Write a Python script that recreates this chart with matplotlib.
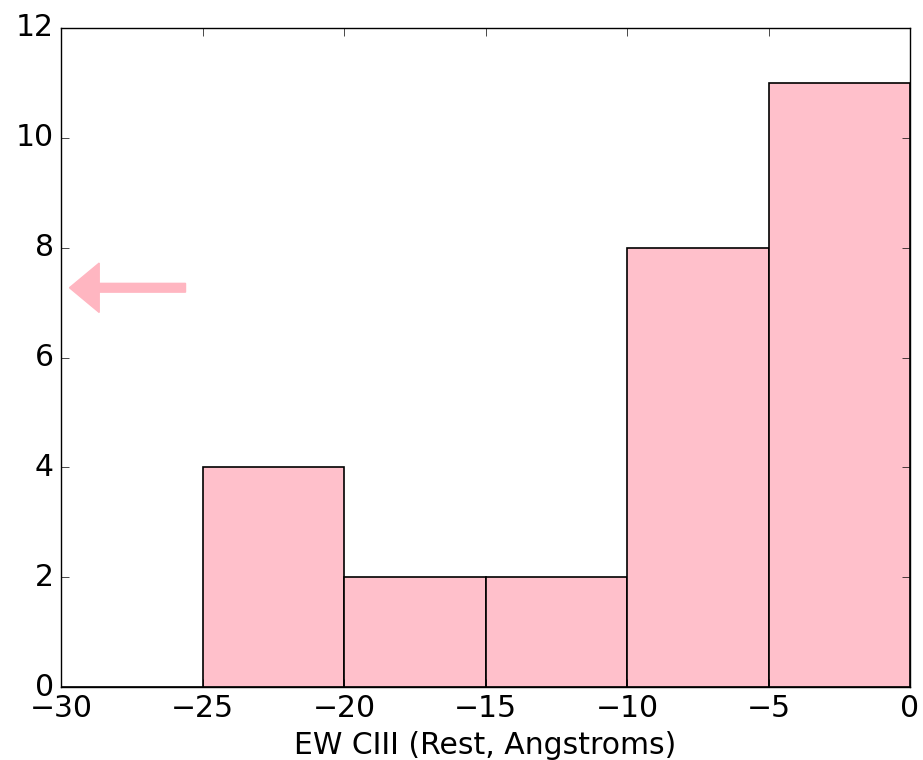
import matplotlib
matplotlib.use('Agg')
import matplotlib.pyplot as plt
import numpy as np

# histogram of CIII equivalent widths
bin_edges = [-30, -25, -20, -15, -10, -5, 0]
counts = [0, 4, 2, 2, 8, 11]

# arrow marking an out-of-range value
arrow_y = 7.27
arrow_start = -25.6
arrow_end = -29.7

plt.style.use('classic')
fig = plt.figure(figsize=(9.23, 7.6), dpi=100, facecolor='white')
ax = fig.add_axes([61/923, 1-687/760, 849/923, 659/760])

ax.hist(bin_edges[:-1], bins=bin_edges, weights=counts, color='pink',
        edgecolor='black', linewidth=1.2)

ax.arrow(arrow_start, arrow_y, arrow_end - arrow_start + 1.05, 0,
         width=0.16, head_width=0.9, head_length=1.05,
         color='lightpink', length_includes_head=False)

ax.set_xlim(-30, 0)
ax.set_ylim(0, 12)
ax.set_xticks(np.arange(-30, 1, 5))
ax.set_yticks(np.arange(0, 13, 2))
ax.tick_params(labelsize=21.5, length=6, direction='in', pad=5)
ax.set_xlabel('EW CIII (Rest, Angstroms)', fontsize=21.5, labelpad=6)

fig.savefig('out.png', dpi=100, facecolor='white')
